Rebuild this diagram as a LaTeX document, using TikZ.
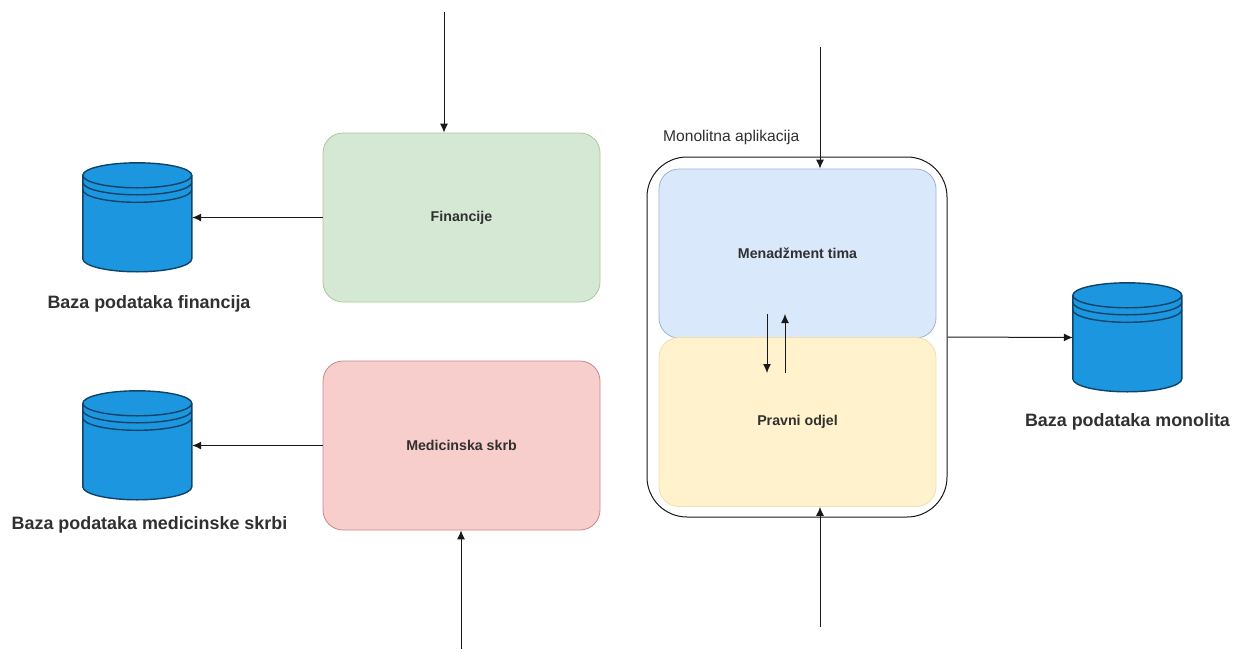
\documentclass[tikz,border=0pt]{standalone}
\usepackage{fontspec}
\setmainfont{Liberation Sans}
\usetikzlibrary{arrows.meta}
\definecolor{dbfill}{HTML}{1B96DF}
\definecolor{dbline}{HTML}{0F4468}
\definecolor{txt}{HTML}{303030}
\definecolor{gfill}{HTML}{D5E8D4}\definecolor{gline}{HTML}{A5C99A}
\definecolor{rfill}{HTML}{F8CECC}\definecolor{rline}{HTML}{C58A88}
\definecolor{bfill}{HTML}{DAE8FC}\definecolor{bline}{HTML}{9DB4D0}
\definecolor{yfill}{HTML}{FFF2CC}\definecolor{yline}{HTML}{EFE0B0}
\tikzset{
  x=1pt,y=-1pt,
  box/.style={draw=#1,line width=.8pt,rounded corners=20pt,minimum width=277pt,minimum height=169pt,inner sep=0pt,font=\fontsize{14.2}{16}\selectfont\bfseries,text=txt},
  dbslot/.style={minimum width=109pt,minimum height=109pt,inner sep=0pt},
  dblabel/.style={font=\fontsize{17.9}{20}\selectfont\bfseries,text=txt,inner sep=0pt},
  link/.style={draw=black!90,line width=1pt,-{Latex[length=9pt,width=8pt]}},
  dbshape/.style={draw=dbline,line width=1.4pt,fill=dbfill},
  dbring/.style={draw=dbline,line width=1.4pt}
}
\newcommand{\dbdraw}[1]{%
  \path[dbshape] (#1.north west)++(0,12.5) -- ++(0,83.5) arc[x radius=54.5,y radius=13,start angle=180,end angle=0] -- ++(0,-83.5) arc[x radius=54.5,y radius=12.5,start angle=0,end angle=-180] -- cycle;
  \draw[dbring] (#1.north west)++(0,12.5) arc[x radius=54.5,y radius=12.5,start angle=180,end angle=0];
  \draw[dbring] (#1.north west)++(0,19.5) arc[x radius=54.5,y radius=12.5,start angle=180,end angle=0];
  \draw[dbring] (#1.north west)++(0,27) arc[x radius=54.5,y radius=12.5,start angle=180,end angle=0];
}
\begin{document}
\begin{tikzpicture}
\useasboundingbox (0,0) rectangle (1237,651);
% outer container
\node[draw=black!90,line width=1pt,rounded corners=40pt,minimum width=300pt,minimum height=360pt,inner sep=0pt,fill=white] (mono) at (797,337) {};
\node[font=\fontsize{15.6}{18}\selectfont,text=txt,anchor=west,inner sep=0pt] (monolabel) at (663,137.5) {Monolitna aplikacija};
% boxes
\node[box=gline,fill=gfill] (fin) at (461.5,217.5) {\raisebox{-2pt}{Financije}};
\node[box=rline,fill=rfill] (med) at (461.5,445.5) {Medicinska skrb};
\node[box=bline,fill=bfill] (tim) at (797.5,253.5) {Menadžment tima};
\node[box=yline,fill=yfill] (prav) at (797.5,422) {\raisebox{-.5pt}{Pravni odjel}};
% databases
\node[dbslot] (db1) at (137.5,217.5) {};
\node[dbslot] (db2) at (137.5,445.5) {};
\node[dbslot] (db3) at (1127.5,337.5) {};
\dbdraw{db1}\dbdraw{db2}\dbdraw{db3}
\node[dblabel] (l1) at (149,304) {Baza podataka financija};
\node[dblabel] (l2) at (149.5,525) {Baza podataka medicinske skrbi};
\node[dblabel] (l3) at (1127.5,422) {Baza podataka monolita};
% free ends
\coordinate (a1) at (444,12);
\coordinate (a2) at (461,649);
\coordinate (a3) at (820,47);
\coordinate (a4) at (820,627);
\coordinate (i1) at (767,314);
\coordinate (i2) at (767,373);
\coordinate (i3) at (785,373);
\coordinate (i4) at (785,314);
% connectors
\draw[link] (a1) -- (a1 |- fin.north);
\draw[link] (a2) -- (a2 |- med.south);
\draw[link] (a3) -- (a3 |- tim.north);
\draw[link] (a4) -- (a4 |- prav.south);
\draw[link] (fin.west) -- (db1.east);
\draw[link] (med.west) -- (db2.east);
\draw[link] (mono.east) -- (db3.west);
\draw[link] (i1) -- (i2);
\draw[link] (i3) -- (i4);
\end{tikzpicture}
\end{document}
